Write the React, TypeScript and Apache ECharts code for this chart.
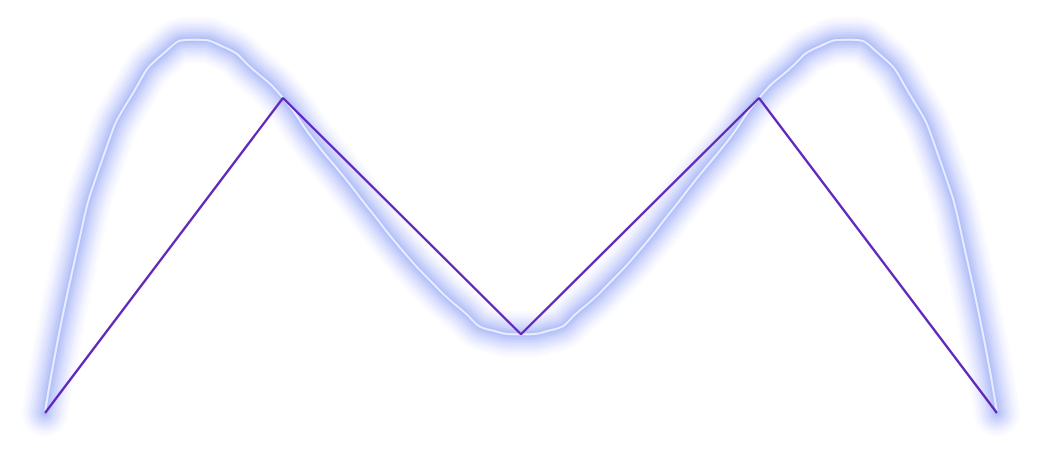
import { useEffect, useRef } from 'react';
import * as echarts from 'echarts';

// straight polyline through the control points
const pointX = [0, 1, 2, 3, 4];
const pointY = [0, 4, 1, 4, 0];

// glowing curve at eighth steps
const curveX = [
  0, 0.125, 0.25, 0.375, 0.5, 0.625, 0.75, 0.875, 1,
  1.125, 1.25, 1.375, 1.5, 1.625, 1.75, 1.875, 2,
  2.125, 2.25, 2.375, 2.5, 2.625, 2.75, 2.875, 3,
  3.125, 3.25, 3.375, 3.5, 3.625, 3.75, 3.875, 4,
];
const curveY = [
  0, 1.94, 3.3, 4.09, 4.57, 4.74, 4.65, 4.36, 4.0,
  3.48, 3.02, 2.54, 2.07, 1.66, 1.31, 1.05, 1.0,
  1.05, 1.31, 1.66, 2.07, 2.54, 3.02, 3.48, 4.0,
  4.36, 4.65, 4.74, 4.57, 4.09, 3.3, 1.94, 0,
];

// halo layers: [width, opacity]
const haloLayers = [
  [46, 0.03],
  [41, 0.035],
  [36, 0.04],
  [31, 0.05],
  [26, 0.06],
  [21, 0.07],
  [16, 0.085],
  [11, 0.1],
  [6, 0.12],
];

export default function App() {
  const chartRef = useRef<HTMLDivElement>(null);

  useEffect(() => {
    if (!chartRef.current) return;
    const chart = echarts.init(chartRef.current, null, { renderer: 'svg' });
    const curve = curveX.map((x, i) => [x, curveY[i]]);

    const halos = haloLayers.map(([w, a]) => ({
      type: 'line',
      data: curve,
      smooth: 0.6,
      showSymbol: false,
      clip: false,
      silent: true,
      lineStyle: {
        color: `rgba(100, 125, 245, ${a})`,
        width: w,
        cap: 'round',
        join: 'round',
      },
    }));

    chart.setOption({
      animation: false,
      grid: { left: 45, right: 51, top: 19.25, bottom: 42 },
      xAxis: { type: 'value', min: 0, max: 4, show: false },
      yAxis: { type: 'value', min: 0, max: 5, show: false },
      series: [
        ...halos,
        {
          type: 'line',
          data: curve,
          smooth: 0.6,
          showSymbol: false,
          clip: false,
          lineStyle: { color: '#e9edff', width: 2, join: 'round' },
        },
        {
          type: 'line',
          data: pointX.map((x, i) => [x, pointY[i]]),
          showSymbol: false,
          clip: false,
          lineStyle: { color: '#6128bd', width: 2.4 },
        },
      ],
    });

    return () => chart.dispose();
  }, []);

  return (
    <div
      ref={chartRef}
      style={{ position: 'absolute', left: 0, top: 0, width: 1048, height: 455 }}
    />
  );
}
